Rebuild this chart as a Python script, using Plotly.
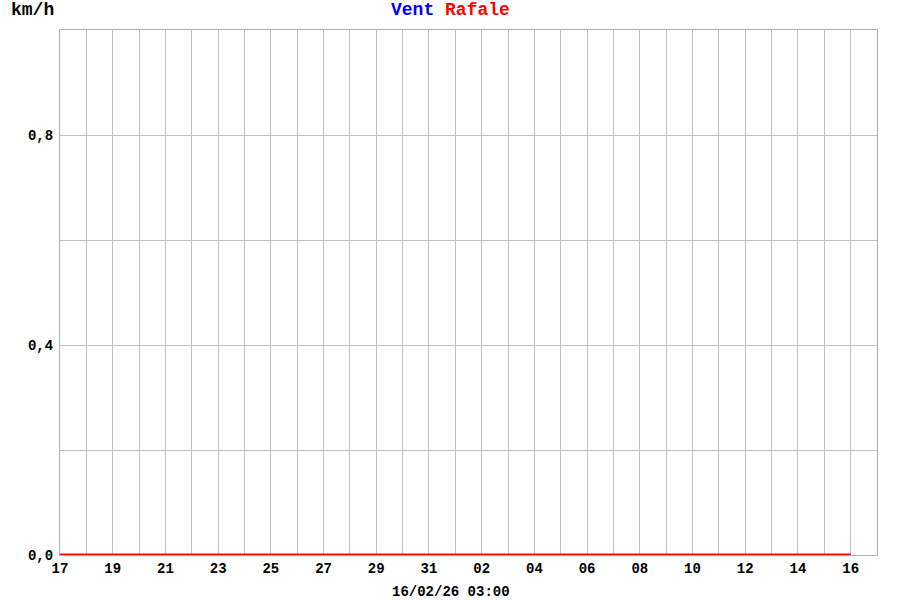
import plotly.graph_objects as go
import pandas as pd

# Data
dates = pd.date_range("2026-01-17", "2026-02-16", freq="D").strftime("%Y-%m-%d").tolist()
vent = [0.0] * len(dates)
rafale = [0.0] * len(dates)
x_ticks = pd.date_range("2026-01-17", "2026-02-17", freq="D")
x_tickvals = x_ticks.strftime("%Y-%m-%d").tolist()
x_ticktext = [d.strftime("%d") if i % 2 == 0 else "" for i, d in enumerate(x_ticks)]
y_tickvals = [0.0, 0.2, 0.4, 0.6, 0.8, 1.0]
y_ticktext = ["0,0", "", "0,4", "", "0,8", ""]
title_left = "Vent"
title_right = "Rafale"
unit = "km/h"
stamp = "16/02/26 03:00"

FONT = "Liberation Mono"

fig = go.Figure()
fig.add_trace(go.Scatter(x=dates, y=vent, mode="lines", line=dict(color="blue", width=2.5), name=title_left))
fig.add_trace(go.Scatter(x=dates, y=rafale, mode="lines", line=dict(color="red", width=2.5), name=title_right))

fig.update_layout(
    width=900, height=600,
    margin=dict(l=60, r=23, t=30, b=45),
    paper_bgcolor="white", plot_bgcolor="white",
    showlegend=False,
    font=dict(family=FONT, size=14, color="black"),
    xaxis=dict(
        type="date", range=["2026-01-17", "2026-02-17"],
        tickmode="array", tickvals=x_tickvals, ticktext=x_ticktext,
        showgrid=True, gridcolor="#c0c0c0", gridwidth=1,
        showline=True, linecolor="#b0b0b0", mirror=True,
        ticks="", ticklabelstandoff=0,
        tickfont=dict(family=FONT, size=14, color="black", weight="bold"),
        zeroline=False, fixedrange=True,
    ),
    yaxis=dict(
        range=[0, 1.0],
        tickmode="array", tickvals=y_tickvals, ticktext=y_ticktext,
        showgrid=True, gridcolor="#c0c0c0", gridwidth=1,
        showline=True, linecolor="#b0b0b0", mirror=True,
        ticks="", ticklabelstandoff=3,
        tickfont=dict(family=FONT, size=14, color="black", weight="bold"),
        zeroline=False, fixedrange=True,
    ),
    annotations=[
        dict(text=f"<b><span style='color:blue'>{title_left}</span> <span style='color:red'>{title_right}</span></b>",
             xref="paper", yref="paper", x=0.478, y=1, yshift=20, xanchor="center", yanchor="middle",
             showarrow=False, font=dict(family=FONT, size=18)),
        dict(text=f"<b>{unit}</b>", xref="paper", yref="paper", x=0, xshift=-51, y=1, yshift=20,
             xanchor="left", yanchor="middle", showarrow=False, font=dict(family=FONT, size=18, color="black")),
        dict(text=f"<b>{stamp}</b>", xref="paper", yref="paper", x=0.478, y=0, yshift=-37,
             xanchor="center", yanchor="middle", showarrow=False, font=dict(family=FONT, size=14, color="black")),
    ],
)

fig.write_html("out.html", config={"displayModeBar": False},
               post_script="document.body.style.margin='0';document.body.style.overflow='hidden';")
